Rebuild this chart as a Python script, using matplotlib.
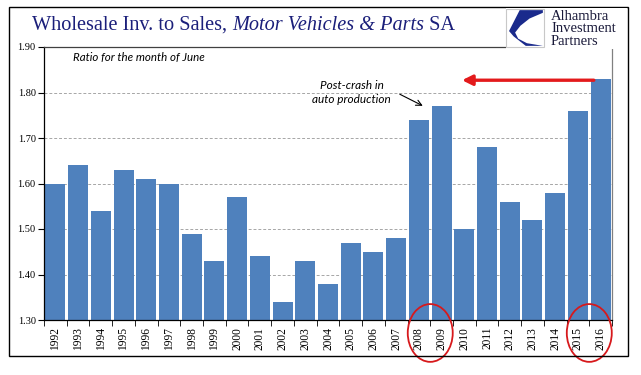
import numpy as np
import matplotlib.pyplot as plt
from matplotlib.patches import Ellipse, Rectangle, Polygon

# data: wholesale inventory-to-sales ratio, June of each year
years = [str(y) for y in range(1992, 2017)]
ratios = [1.60, 1.64, 1.54, 1.63, 1.61, 1.60, 1.49, 1.43, 1.57, 1.44,
          1.34, 1.43, 1.38, 1.47, 1.45, 1.48, 1.74, 1.77, 1.50, 1.68,
          1.56, 1.52, 1.58, 1.76, 1.83]
yticks = [1.30, 1.40, 1.50, 1.60, 1.70, 1.80, 1.90]

bar_color = '#4F81BD'
navy = '#1B1F7A'

fig = plt.figure(figsize=(6.41, 3.75), dpi=100)
ax = fig.add_axes([44 / 641, 1 - 320 / 375, 568 / 641, 273 / 375])

x = np.arange(len(years))
ax.bar(x, ratios, width=0.88, color=bar_color, zorder=2)

ax.set_xlim(-0.5, len(years) - 0.5)
ax.set_ylim(1.30, 1.90)
ax.set_yticks(yticks)
ax.set_yticklabels(['%.2f' % v for v in yticks], family='Liberation Serif', fontsize=7.5)
ax.set_xticks(x)
ax.set_xticklabels(years, rotation=90, family='Liberation Serif', fontsize=8.3)
# tick marks between categories
ax.set_xticks(np.arange(-0.5, len(years)), minor=True)
ax.tick_params(axis='x', which='major', length=0, pad=5)
ax.tick_params(axis='x', which='minor', length=4, direction='out', color='black')
ax.tick_params(axis='y', length=4, direction='out', pad=2)

for yv in yticks[1:-1]:
    ax.axhline(yv, color='#A6A6A6', lw=0.7, ls=(0, (3, 2)), zorder=1)

ax.spines['left'].set_color('black')
ax.spines['bottom'].set_color('black')
ax.spines['top'].set_color('#404040')
ax.spines['right'].set_color('#808080')
for s in ax.spines.values():
    s.set_linewidth(0.9)

# annotations
ax.text(0.78, 1.878, 'Ratio for the month of June', fontsize=8.3, style='italic',
        family='Lato', va='center', ha='left')
ax.text(13.05, 1.80, 'Post-crash in\nauto production', fontsize=8.5, style='italic',
        family='Lato', va='center', ha='center', linespacing=1.35)
ax.annotate('', xy=(16.28, 1.768), xytext=(15.05, 1.799),
            arrowprops=dict(arrowstyle='->', color='black', lw=0.8))
ax.annotate('', xy=(17.9, 1.827), xytext=(23.7, 1.827),
            arrowprops=dict(arrowstyle='-|>,head_length=0.6,head_width=0.3',
                            color='#E31A1C', lw=2.4, shrinkA=0, shrinkB=0))

# red circles around the tick labels
for cx in (16.5, 23.5):
    ax.add_patch(Ellipse((cx, 1.2715), 1.98, 0.127, fill=False, edgecolor='#D7191C',
                         lw=1.3, clip_on=False, zorder=5))

# title in pieces: regular / italic / regular
tsize = 14.6
t1 = fig.text(32 / 641, 1 - 30 / 375, 'Wholesale Inv. to Sales, ', family='Liberation Serif',
              fontsize=tsize, color=navy, va='baseline')
t2 = ax.annotate('Motor Vehicles & Parts', xy=(1, 0), xycoords=t1, va='bottom',
                 family='Liberation Serif', style='italic', fontsize=tsize, color=navy)
t3 = ax.annotate(' SA', xy=(1, 0), xycoords=t2, va='bottom',
                 family='Liberation Serif', fontsize=tsize, color=navy)

# logo block (white box covering top-right corner of the plot frame)
fig.patches.append(Rectangle((506 / 641, 1 - 49 / 375), 121 / 641, 41 / 375,
                             transform=fig.transFigure, facecolor='white',
                             edgecolor='none', zorder=3))
lx0, ly0, lw, lh = 506 / 641, 1 - 47 / 375, 38 / 641, 38 / 375
fig.patches.append(Rectangle((lx0, ly0), lw, lh, transform=fig.transFigure,
                             facecolor='white', edgecolor='#C8C8C8', lw=0.8, zorder=4))
shape = [(0.36, 0.97), (0.97, 0.97), (0.97, 0.9), (0.62, 0.75), (0.38, 0.56),
         (0.24, 0.38), (0.32, 0.22), (0.55, 0.1), (0.97, 0.03), (0.52, 0.03),
         (0.2, 0.28), (0.08, 0.42)]
fig.patches.append(Polygon([(lx0 + px * lw, ly0 + py * lh) for px, py in shape],
                           closed=True, transform=fig.transFigure,
                           facecolor='#1A2A8C', edgecolor='none', zorder=5))
for i, word in enumerate(['Alhambra', 'Investment', 'Partners']):
    fig.text(551 / 641, 1 - (20 + 12.5 * i) / 375, word, family='Liberation Serif',
             fontsize=10.5, color='#1A1A3A', va='baseline', zorder=6)

# outer frame
fig.patches.append(Rectangle((9 / 641, 1 - 356 / 375), 619 / 641, 349 / 375,
                             transform=fig.transFigure, fill=False,
                             edgecolor='black', lw=1.0, zorder=0))

fig.savefig('out.png', dpi=100)
